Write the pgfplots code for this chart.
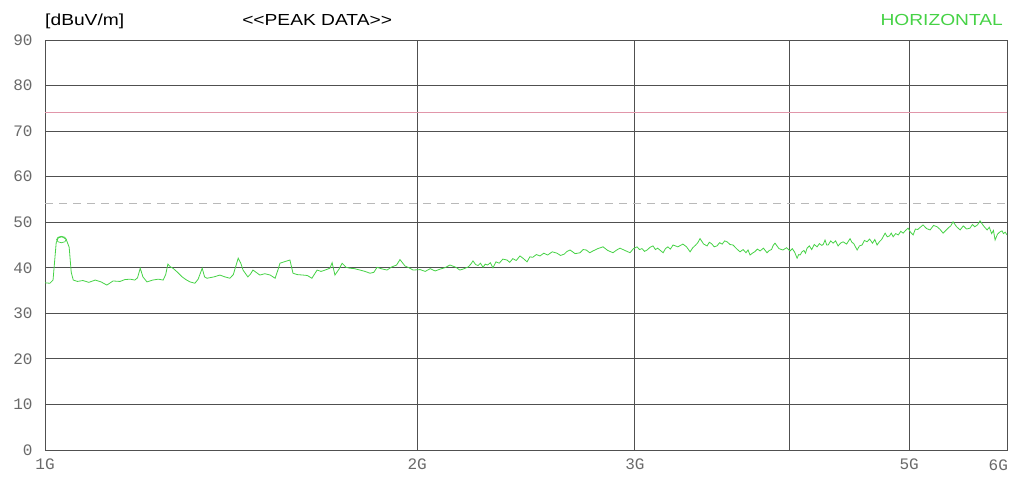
\documentclass[border=0pt]{standalone}
\usepackage{pgfplots}
\pgfplotsset{compat=1.18}
\usepackage{fontspec}
\setmainfont{Liberation Sans}
\newfontfamily\tickfont{Liberation Mono}
\definecolor{trace}{RGB}{70,210,70}
\definecolor{limitred}{RGB}{225,150,170}
\definecolor{gridc}{RGB}{80,80,80}
\definecolor{ticktext}{RGB}{105,105,105}
\begin{document}
\begin{tikzpicture}
\begin{axis}[
  scale only axis,
  width=962pt, height=410pt,
  xmode=log,
  xmin=1000, xmax=6000,
  ymin=0, ymax=90,
  xtick={1000,2000,3000,4000,5000,6000},
  xticklabels={1G,2G,3G,,5G,},
  ytick={0,10,...,90},
  major tick length=0pt,
  xmajorgrids, ymajorgrids,
  grid style={gridc, line width=0.9pt},
  axis line style={gridc, line width=0.9pt},
  /pgf/number format/assume math mode=true,
  tick label style={font=\tickfont\fontsize{16}{16}\selectfont, text=ticktext},
  xticklabel style={yshift=-5pt},
  yticklabel style={xshift=-9pt},
  clip mode=individual,
]
\addplot[limitred, line width=1.2pt] coordinates {(1000,74) (6000,74)};
\addplot[gray!55, line width=1pt, dash pattern=on 8pt off 6pt] coordinates {(1000,54) (6000,54)};
\addplot[trace, line width=0.8pt] coordinates {
(1000,36.7) (1009,36.6) (1015,37.3) (1021,45.5) (1025,46.6) (1032,46.8) (1040,46.3) (1046,44.5) (1050,39) (1054,37.3)
(1062,37.0) (1073,37.2) (1085,36.8) (1098,37.3) (1110,36.9) (1122,36.2) (1135,37.1) (1150,37.0) (1160,37.4) (1172,37.5)
(1182,37.3) (1188,37.8) (1194,39.9) (1200,38.0) (1209,36.9) (1222,37.3) (1235,37.5) (1246,37.3) (1252,38.5) (1257,40.8)
(1263,40.2) (1269,39.9) (1280,39.0) (1291,38.0) (1300,37.4) (1310,36.9) (1322,36.6) (1330,37.5) (1340,39.9) (1346,38.0)
(1352,37.7) (1370,38.0) (1385,38.4) (1398,38.0) (1411,37.7) (1420,38.5) (1433,42.1) (1440,41.0) (1446,39.5) (1459,38.0)
(1466,38.6) (1473,39.5) (1492,38.4) (1506,38.7) (1521,38.4) (1535,37.7) (1543,39.5) (1549,41.0) (1565,41.4) (1578,41.7)
(1587,38.8) (1600,38.5) (1617,38.4) (1630,38.3) (1644,37.7) (1660,39.5) (1672,39.2) (1685,39.5) (1700,39.9) (1707,41.1)
(1716,38.4) (1730,39.8) (1739,41.0) (1752,40.1) (1765,39.9) (1780,39.8) (1798,39.5) (1815,39.2) (1832,38.8) (1845,39.0)
(1856,40.1) (1870,39.8) (1891,39.5) (1908,40.2) (1925,40.6) (1937,41.8) (1955,40.4) (1970,40.0) (1985,39.5) (2011,39.6)
(2030,39.2) (2049,39.8) (2068,39.3) (2087,39.7) (2105,40.0) (2126,40.6) (2150,40.1) (2165,39.5) (2178,39.7) (2200,40.2)
(2210,40.8) (2219,41.5) (2230,40.7) (2240,40.5) (2250,41.0) (2261,40.1) (2270,40.8) (2280,40.6) (2292,41.1) (2303,40.0)
(2316,41.3) (2330,41.0) (2346,41.9) (2364,41.7) (2376,41.2) (2390,42.0) (2405,41.6) (2422,42.6) (2438,42.0) (2454,41.3)
(2467,42.4) (2480,42.3) (2497,42.9) (2514,42.6) (2532,43.2) (2550,42.8) (2572,43.5) (2595,43.2) (2612,42.7) (2630,43.0)
(2644,43.6) (2659,43.9) (2684,43.1) (2709,43.3) (2724,44.0) (2740,43.9) (2758,43.3) (2775,43.7) (2800,44.2) (2827,44.6)
(2852,43.8) (2880,43.3) (2900,43.9) (2918,44.3) (2945,43.8) (2973,43.3) (2992,44.2) (3012,44.6) (3026,44.0) (3040,44.2)
(3055,43.6) (3069,43.9) (3086,44.5) (3103,44.8) (3117,44.0) (3130,44.3) (3146,43.8) (3162,43.3) (3176,44.2) (3190,44.6)
(3205,44.1) (3221,45.0) (3250,44.6) (3281,45.2) (3303,44.6) (3325,43.5) (3342,44.4) (3360,45.0) (3373,45.5) (3387,46.4)
(3410,45.2) (3432,44.8) (3446,45.6) (3460,45.3) (3478,44.6) (3496,44.8) (3513,45.5) (3530,45.2) (3546,45.9) (3562,45.7)
(3582,45.1) (3602,45.0) (3625,44.2) (3649,43.5) (3670,44.0) (3690,43.3) (3704,43.9) (3718,42.8) (3734,43.2) (3750,43.5)
(3770,44.1) (3788,43.7) (3812,44.3) (3837,43.3) (3854,43.8) (3870,44.0) (3882,44.9) (3895,45.4) (3924,44.2) (3953,43.9)
(3980,44.4) (4005,43.7) (4022,44.2) (4040,43.4) (4058,42.1) (4070,42.9) (4081,42.8) (4095,43.5) (4110,43.8) (4122,43.2)
(4134,44.3) (4152,44.8) (4170,44.0) (4190,45.1) (4212,44.6) (4230,45.3) (4250,44.9) (4262,45.2) (4275,46.1) (4288,45.0)
(4300,45.0) (4320,45.9) (4339,45.4) (4360,45.9) (4380,44.8) (4400,45.4) (4421,45.7) (4450,45.2) (4479,46.4) (4494,45.6)
(4510,45.3) (4524,44.6) (4538,43.9) (4558,44.8) (4580,45.0) (4600,46.0) (4623,45.7) (4645,46.3) (4670,45.4) (4690,46.2)
(4710,45.0) (4730,45.7) (4750,46.2) (4765,46.9) (4781,47.6) (4800,46.8) (4820,47.0) (4836,47.6) (4853,46.8) (4876,47.5)
(4900,47.2) (4922,48.0) (4944,47.6) (4967,48.2) (4990,48.7) (5013,47.8) (5037,47.2) (5058,48.5) (5080,48.4) (5105,48.9)
(5131,49.4) (5165,48.6) (5199,48.3) (5232,49.3) (5267,49.0) (5297,48.4) (5326,47.6) (5353,48.2) (5380,48.8) (5403,49.2)
(5426,50.1) (5462,49.0) (5498,48.3) (5530,49.2) (5565,48.5) (5600,48.7) (5625,49.5) (5650,49.0) (5678,49.4) (5706,50.3)
(5743,49.2) (5781,48.3) (5805,48.9) (5830,47.5) (5850,48.2) (5868,46.1) (5895,47.4) (5923,47.9) (5945,48.1) (5960,47.5)
(5980,47.8) (6000,47.2)
};
\addplot[trace, line width=0.7pt, only marks, mark=o, mark size=4pt, mark options={xscale=1.2, yscale=0.8}] coordinates {(1031,46.2)};
\node[anchor=base west, font=\fontsize{16}{16}\selectfont, inner sep=0pt] at ([yshift=14pt]rel axis cs:0,1) {\scalebox{1.2}[1]{[dBuV/m]}};
\node[anchor=base west, font=\fontsize{16}{16}\selectfont, inner sep=0pt] at ([xshift=197pt,yshift=14pt]rel axis cs:0,1) {\scalebox{1.2}[1]{<{}<PEAK DATA>{}>}};
\node[anchor=base east, font=\fontsize{16}{16}\selectfont, text=trace, inner sep=0pt] at ([xshift=-4pt,yshift=14pt]rel axis cs:1,1) {\scalebox{1.2}[1]{HORIZONTAL}};
\node[anchor=north east, font=\tickfont\fontsize{16}{16}\selectfont, text=ticktext, inner sep=0pt] at ([xshift=1pt,yshift=-10pt]rel axis cs:1,0) {6G};
\end{axis}
\pgfresetboundingbox
\path ([xshift=-45pt,yshift=-30pt]current axis.south west) rectangle ([xshift=7pt,yshift=40pt]current axis.north east);
\end{tikzpicture}
\end{document}
